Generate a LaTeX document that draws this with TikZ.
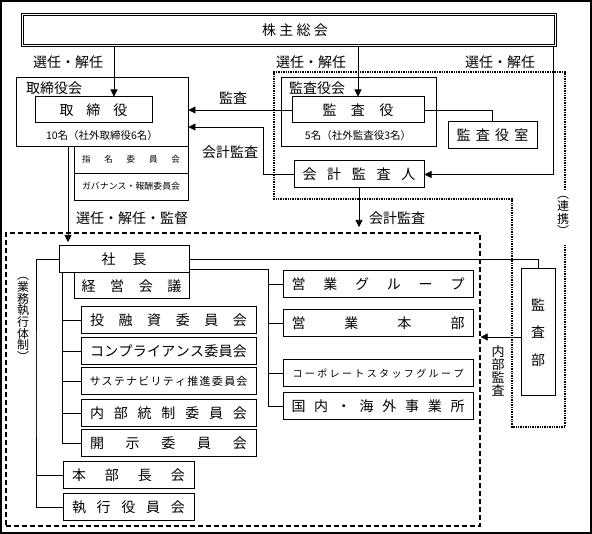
\documentclass[tikz,border=0pt]{standalone}
\usepackage{fontspec}
\setmainfont{Noto Sans CJK JP}
\usetikzlibrary{arrows.meta}

\makeatletter
\newcommand{\spreadtext}[2]{\makebox[#1]{\@spreadloop#2\@nil}}
\def\@spreadloop#1#2\@nil{#1\ifx\relax#2\relax\else\hfill\@spreadloop#2\@nil\fi}
\makeatother

\tikzset{
  box/.style={draw, line width=1pt, inner sep=0pt, minimum height=27pt, font=\fontsize{14}{14}\selectfont},
  frame/.style={draw, line width=0.8pt, inner sep=0pt},
  conn/.style={line width=0.6pt},
  arr/.style={line width=0.6pt, -{Triangle[length=7pt,width=7pt]}},
  lbl/.style={inner sep=0pt, font=\fontsize{14}{14}\selectfont},
  small/.style={inner sep=0pt, font=\fontsize{10.5}{10.5}\selectfont},
  vtext/.style={inner sep=0pt, align=center},
  dotline/.style={line width=1.6pt, dash pattern=on 1.4pt off 1pt},
  dashline/.style={line width=1.2pt, dash pattern=on 5pt off 3pt},
}

\begin{document}
\begin{tikzpicture}[x=1pt,y=-1pt]
  \useasboundingbox (0,0) rectangle (592,534);
  \draw[line width=1.2pt] (1,1) rectangle (591,533);

  % shareholders
  \node[box, line width=0.8pt, double, double distance=1.6pt, minimum width=533pt, minimum height=31pt]
    (kabunushi) at (289,30) {\hspace*{12pt}\spreadtext{66pt}{株主総会}};

  % board of directors
  \node[frame, minimum width=172pt, minimum height=69pt] (torikai) at (102,111.5) {};
  \node[lbl, anchor=west] (torikailbl) at (26,88) {取締役会};
  \node[box, minimum width=117pt, minimum height=26pt] (tori) at (93.5,110) {\spreadtext{68pt}{取締役}};
  \node[small] (torinum) at (102,136) {10名（社外取締役6名）};
  \node[box, line width=0.8pt, minimum width=114pt, font=\fontsize{8.5}{8.5}\selectfont]
    (shimei) at (131,159.5) {\spreadtext{98pt}{指名委員会}};
  \node[box, line width=0.8pt, minimum width=114pt, font=\fontsize{8.8}{8.8}\selectfont]
    (gov) at (131,186.5) {\spreadtext{98pt}{ガバナンス・報酬委員会}};

  % auditors
  \node[frame, minimum width=155pt, minimum height=69pt] (kansakai) at (358.5,111.5) {};
  \node[lbl, anchor=west] (kansakailbl) at (289,88) {監査役会};
  \node[box, minimum width=132pt, minimum height=26pt] (kansa) at (358,110) {\spreadtext{71pt}{監査役}};
  \node[small] (kansanum) at (358,136) {5名（社外監査役3名）};
  \node[box, minimum width=89pt] (kansashitsu) at (492.5,135.5) {\spreadtext{72pt}{監査役室}};
  \node[box, minimum width=130pt] (kaikei) at (359,174.5) {\spreadtext{113pt}{会計監査人}};

  % cooperation zone
  \draw[dotline] (565,190) -- (565,72) -- (274,72) -- (274,199) -- (512,199)
    -- (512,427) -- (565,427) -- (565,245);
  \node[vtext, font=\fontsize{12}{12.5}\selectfont] (renkei) at (563,216) {︵\\連\\携\\︶};

  % execution
  \node[draw, dashline, minimum width=474pt, minimum height=293pt] (gyomu) at (243,379.5) {};
  \node[vtext, font=\fontsize{12}{11.7}\selectfont] (gyomulbl) at (23,319.5) {︵\\業\\務\\執\\行\\体\\制\\︶};

  \node[box, minimum width=130pt] (shacho) at (124,259.5) {\spreadtext{45pt}{社長}};
  \node[box, minimum width=115pt, minimum height=26pt] (keiei) at (131.5,286) {\spreadtext{100pt}{経営会議}};

  \node[box, minimum width=175pt] (toyushi) at (168.5,320.5) {\spreadtext{157pt}{投融資委員会}};
  \node[box, minimum width=175pt] (compli) at (168.5,351) {\spreadtext{157pt}{コンプライアンス委員会}};
  \node[box, minimum width=175pt, font=\fontsize{11}{11}\selectfont]
    (sustain) at (168.5,381.5) {\spreadtext{158pt}{サステナビリティ推進委員会}};
  \node[box, minimum width=175pt] (naibu) at (168.5,413) {\spreadtext{157pt}{内部統制委員会}};
  \node[box, minimum width=175pt] (kaiji) at (168.5,443.5) {\spreadtext{157pt}{開示委員会}};

  \node[box, minimum width=131pt] (honbu) at (128.5,475.5) {\spreadtext{113pt}{本部長会}};
  \node[box, minimum width=131pt] (shikko) at (128.5,507) {\spreadtext{113pt}{執行役員会}};

  \node[box, minimum width=190pt] (eigyog) at (378,284.5) {\spreadtext{173pt}{営業グループ}};
  \node[box, minimum width=190pt] (eigyoh) at (378,323.5) {\spreadtext{173pt}{営業本部}};
  \node[box, minimum width=190pt, font=\fontsize{10}{10}\selectfont]
    (corp) at (378,373.5) {\spreadtext{171pt}{コーポレートスタッフグループ}};
  \node[box, minimum width=190pt] (jigyo) at (378,406.5) {\spreadtext{173pt}{国内・海外事業所}};

  \node[box, minimum width=34pt, minimum height=127pt, align=center, font=\fontsize{14}{27.5}\selectfont]
    (kansabu) at (538,332.5) {監\\査\\部};

  % selection and audit arrows
  \draw[arr] (kabunushi.south -| 114,0) -- (tori.north -| 114,0);
  \node[lbl] (sennin1) at (68,62) {選任・解任};
  \draw[arr] (kabunushi.south -| kansa.north) -- (kansa.north);
  \node[lbl] (sennin2) at (311,62) {選任・解任};
  \draw[arr] (kabunushi.south -| 553,0) |- (kaikei.east);
  \node[lbl] (sennin3) at (500,62) {選任・解任};

  \draw[arr] (kansa.west) -- (kansa.west -| torikai.east);
  \node[lbl] (kansalbl) at (233,98) {監査};
  \draw[conn] (kansa.east) -| (kansashitsu.north);
  \draw[arr] (kaikei.west) -| (263,127) -- (torikai.east |- 0,127);
  \node[lbl] (kaikeilbl1) at (230,152) {会計監査};
  \draw[arr] (kaikei.south) -- (kaikei.south |- 0,227);
  \node[lbl] (kaikeilbl2) at (397,218) {会計監査};

  \draw[arr] (torikai.south -| 68,0) -- (68,242);
  \node[lbl] (kantoku) at (132,218) {選任・解任・監督};

  % organisation tree
  \foreach \n in {toyushi,compli,sustain,naibu,kaiji}
    \draw[conn] (shacho.south -| 62,0) |- (\n.west);
  \foreach \n in {honbu,shikko}
    \draw[conn] (shacho.west) -| (36,400) |- (\n.west);
  \foreach \n in {eigyog,eigyoh,corp,jigyo}
    \draw[conn] (shacho.east |- 0,269) -| (268,300) |- (\n.west);
  \draw[conn] (shacho.east) -| (kansabu.north);

  % internal audit
  \draw[arr] (kansabu.west |- 0,337) -- (gyomu.east |- 0,337);
  \node[vtext, font=\fontsize{13}{13}\selectfont] (naibukansa) at (498,371) {内\\部\\監\\査};
\end{tikzpicture}
\end{document}
